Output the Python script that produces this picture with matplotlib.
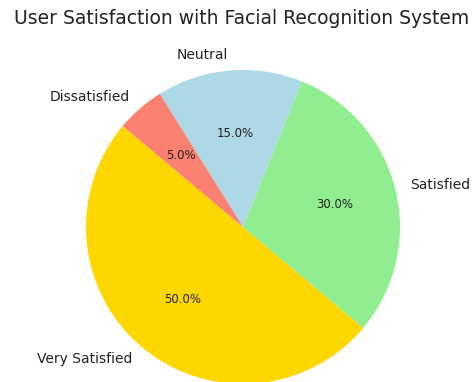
import matplotlib
matplotlib.use("Agg")
import matplotlib.pyplot as plt

categories = ["Very Satisfied", "Satisfied", "Neutral", "Dissatisfied"]
values = [50, 30, 15, 5]
colors = ["gold", "lightgreen", "lightblue", "salmon"]
title = "User Satisfaction with Facial Recognition System"

W, H = 475, 382
fig = plt.figure(figsize=(W / 100, H / 100), dpi=100)

cx, cy, r = 243, 227, 157
size = r * 2.5
ax = fig.add_axes([(cx - size / 2) / W, (H - cy - size / 2) / H, size / W, size / H])
ax.pie(values, labels=categories, colors=colors, autopct="%1.1f%%", startangle=140,
       textprops={"fontsize": 10, "color": "#222222"})
for t in ax.texts:
    if t.get_text().endswith("%"):
        t.set_fontsize(8.5)
ax.set_xlim(-1.25, 1.25)
ax.set_ylim(-1.25, 1.25)
ax.set_aspect("equal")

fig.text(242 / W, 1 - 19 / H, title, ha="center", va="center", fontsize=13.5, color="#222222")

fig.savefig("out.png", dpi=100)
